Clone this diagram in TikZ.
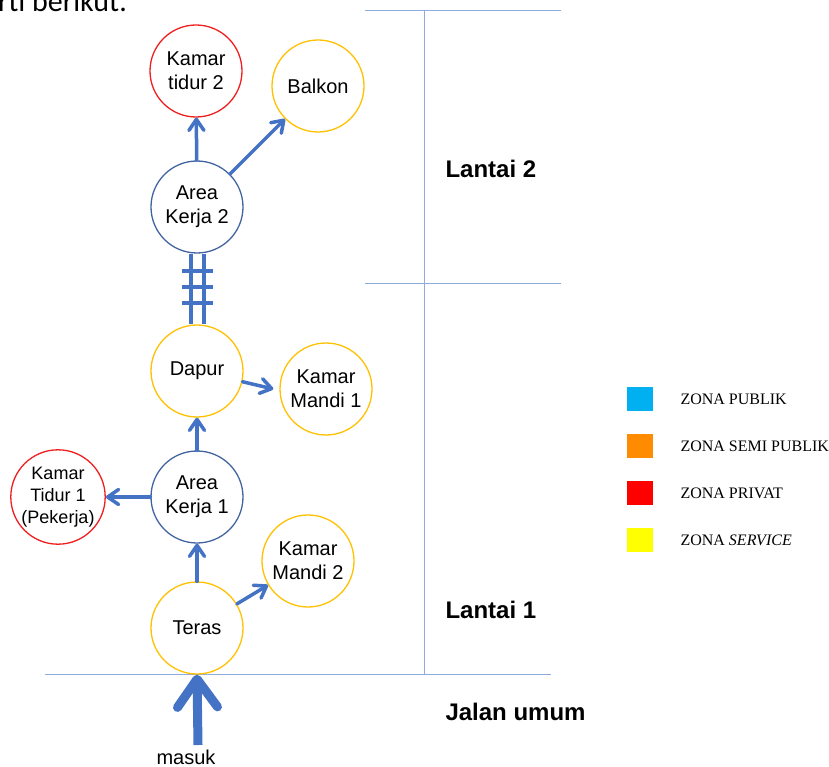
\documentclass[tikz,border=0pt]{standalone}
\usepackage{fontspec}
\setmainfont{Liberation Sans}
\newfontfamily\legendfont{Liberation Serif}
\newfontfamily\bodyfont{Carlito}
\usetikzlibrary{arrows.meta}
\definecolor{flowblue}{RGB}{68,114,196}
\definecolor{ringblue}{RGB}{65,100,160}
\definecolor{ringred}{RGB}{240,30,30}
\definecolor{ringyellow}{RGB}{255,192,0}
\definecolor{gridblue}{RGB}{143,170,220}
\definecolor{zpublik}{RGB}{0,176,240}
\definecolor{zsemi}{RGB}{255,140,0}
\definecolor{zprivat}{RGB}{255,0,0}
\definecolor{zservice}{RGB}{255,255,0}
\tikzset{
  room/.style={circle, draw, minimum size=92pt, inner sep=0pt,
    align=center, font=\fontsize{20}{24}\selectfont, line width=1.3pt},
  kerja/.style={room, draw=ringblue},
  privat/.style={room, draw=ringred},
  service/.style={room, draw=ringyellow},
  flow/.style={-{Straight Barb[length=11pt,width=15pt,round]},
    line width=3.5pt, color=flowblue, line cap=round},
  entry/.style={-{Straight Barb[length=28pt,width=40pt,round]},
    line width=9pt, color=flowblue},
  stair/.style={line width=4pt, color=flowblue},
  grid/.style={line width=1pt, color=gridblue},
  floorlabel/.style={anchor=west, font=\fontsize{24}{28}\selectfont\bfseries},
  swatch/.style={minimum width=26pt, minimum height=24pt, inner sep=0pt},
  zonetext/.style={anchor=west, font=\legendfont\fontsize{16}{19}\selectfont}
}
\begin{document}
\begin{tikzpicture}[x=1pt, y=-1pt]
  \useasboundingbox (0,0) rectangle (829,767);
  \clip (0,0) rectangle (829,767);

  % cut-off caption line above
  \node[anchor=base west, inner sep=0pt, font=\bodyfont\fontsize{30}{36}\selectfont]
    (caption) at (-2,12) {rti berikut.};

  % floor dividers
  \draw[grid] (365,11) -- (561,11);
  \draw[grid] (365,283) -- (561,283);
  \draw[grid] (424,11) -- (424,674);
  \draw[grid] (45,674) -- (551,674);

  % rooms, floor 2
  \node[privat] (tidur2) at (196,71) {Kamar\\tidur 2};
  \node[service] (balkon) at (318,86) {Balkon};
  \node[kerja] (kerja2) at (197,207) {Area\\Kerja 2};

  % rooms, floor 1
  \node[service] (dapur) at (197,371) {Dapur};
  \node[service] (mandi1) at (326,389) {Kamar\\Mandi 1};
  \node[kerja] (kerja1) at (197,497) {Area\\Kerja 1};
  \node[privat, font=\fontsize{18}{22}\selectfont] (tidur1) at (58,497) {Kamar\\Tidur 1\\(Pekerja)};
  \node[service] (mandi2) at (308,561) {Kamar\\Mandi 2};
  \node[service] (teras) at (197,628) {Teras};

  % circulation
  \draw[flow] (kerja2) -- (tidur2);
  \draw[flow] (kerja2) -- (balkon);
  \draw[flow] (dapur) -- ([xshift=-6pt]mandi1.west);
  \draw[flow] (kerja1) -- (dapur);
  \draw[flow] (kerja1) -- (tidur1);
  \draw[flow] (teras) -- (kerja1);
  \draw[flow] (teras) -- (mandi2);

  % stairs
  \draw[stair] ([xshift=-6.5pt]kerja2.south) -- ([xshift=-6.5pt]dapur.north);
  \draw[stair] ([xshift=6.5pt]kerja2.south) -- ([xshift=6.5pt]dapur.north);
  \foreach \y in {271, 287, 303} {
    \draw[stair] (182,\y) -- (213,\y);
  }

  % entrance
  \node[font=\fontsize{20}{24}\selectfont] (masuk) at (186,757) {masuk};
  \coordinate (gate) at (198,745);
  \draw[entry] (gate) -- (teras.south);

  % floor labels
  \node[floorlabel] (lt2) at (442,169) {Lantai 2};
  \node[floorlabel] (lt1) at (442,610) {Lantai 1};
  \node[floorlabel] (jalan) at (442,712) {Jalan umum};

  % legend
  \node[swatch, fill=zpublik] (zp) at (640,399) {};
  \node[swatch, fill=zsemi] (zs) at (640,446) {};
  \node[swatch, fill=zprivat] (zv) at (640,493) {};
  \node[swatch, fill=zservice] (zr) at (640,540) {};
  \node[zonetext] at (677,399) {ZONA PUBLIK};
  \node[zonetext] at (677,446) {ZONA SEMI PUBLIK};
  \node[zonetext] at (677,493) {ZONA PRIVAT};
  \node[zonetext] at (677,540) {ZONA \textit{SERVICE}};
\end{tikzpicture}
\end{document}
